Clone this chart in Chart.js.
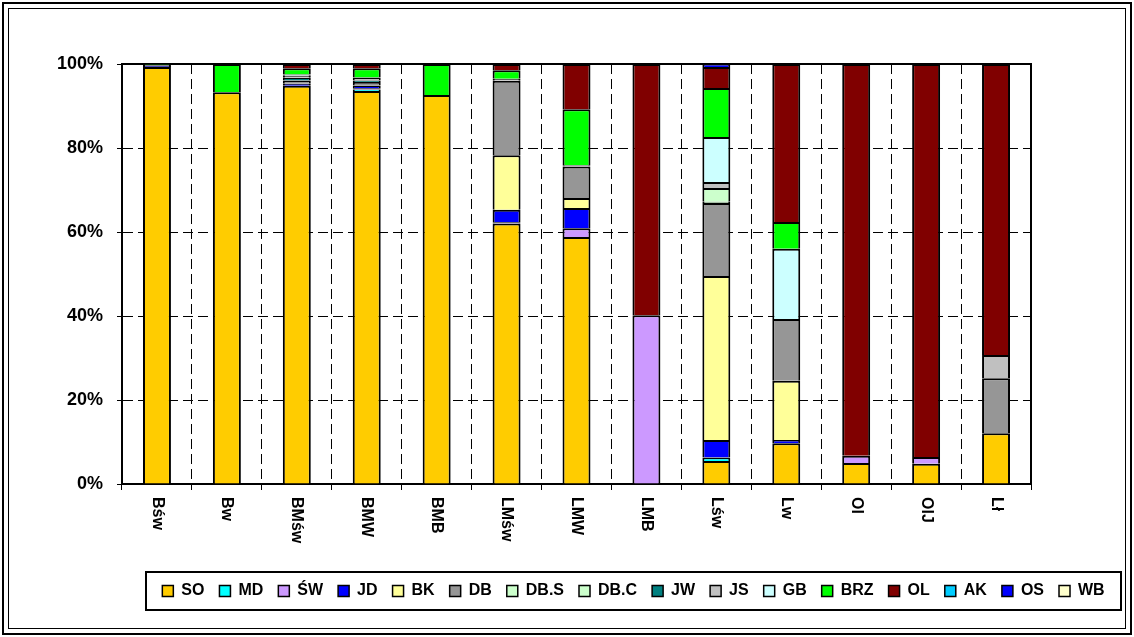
<!DOCTYPE html>
<html>
<head>
<meta charset="utf-8">
<title>Skład gatunkowy</title>
<script src="https://cdn.jsdelivr.net/npm/chart.js@4.4.0/dist/chart.umd.min.js"></script>
<style>
  html, body { margin: 0; padding: 0; background: #fff; }
  canvas { display: block; }
</style>
</head>
<body>
<canvas id="speciesChart" width="1134" height="637"></canvas>
<script>
// habitat types on the x axis
const habitats = ["Bśw", "Bw", "BMśw", "BMW", "BMB", "LMśw", "LMW", "LMB", "Lśw", "Lw", "Ol", "OlJ", "Lł"];

// y axis ticks (percent)
const yTicks = [0, 20, 40, 60, 80, 100];

// species shares (%) per habitat, bottom to top of each stack
const so   = [99.3, 93.3, 94.8, 93.6, 92.6, 62.0, 58.8, 0, 5.5, 9.7, 5.0, 4.8, 12.1];
const md   = [0, 0, 0, 0.3, 0, 0, 0, 0, 0.8, 0, 0, 0, 0];
const sw   = [0, 0, 0, 0.3, 0, 0.3, 2.1, 40.2, 0, 0, 1.7, 1.6, 0];
const jd   = [0.2, 0, 0.5, 0.7, 0, 3.0, 4.8, 0, 4.2, 0.8, 0, 0, 0];
const bk   = [0, 0, 0, 0, 0, 13.0, 2.4, 0, 39.0, 14.1, 0, 0, 0];
const db   = [0.3, 0, 0.8, 0.8, 0, 17.7, 7.5, 0, 17.4, 14.7, 0, 0, 13.1];
const dbs  = [0, 0, 0, 0, 0, 0, 0, 0, 0.3, 0, 0, 0, 0];
const dbc  = [0, 0, 0, 0, 0, 0, 0, 0, 3.3, 0, 0, 0, 0];
const jw   = [0, 0, 0.6, 0.4, 0, 0, 0, 0, 0, 0, 0, 0, 0];
const js   = [0, 0, 0.5, 0.7, 0, 0.5, 0.3, 0, 1.4, 0, 0, 0, 5.5];
const gb   = [0, 0, 0.3, 0, 0, 0, 0, 0, 10.7, 16.7, 0, 0, 0];
const brz  = [0.2, 6.7, 1.5, 2.2, 7.4, 2.0, 13.3, 0, 11.7, 6.4, 0, 0, 0];
const ol   = [0, 0, 1.0, 1.0, 0, 1.5, 10.8, 59.8, 5.0, 37.6, 93.3, 93.6, 69.3];
const ak   = [0, 0, 0, 0, 0, 0, 0, 0, 0, 0, 0, 0, 0];
const os   = [0, 0, 0, 0, 0, 0, 0, 0, 0.7, 0, 0, 0, 0];
const wb   = [0, 0, 0, 0, 0, 0, 0, 0, 0, 0, 0, 0, 0];

const seriesNames  = ["SO", "MD", "ŚW", "JD", "BK", "DB", "DB.S", "DB.C", "JW", "JS", "GB", "BRZ", "OL", "AK", "OS", "WB"];
const seriesValues = [so, md, sw, jd, bk, db, dbs, dbc, jw, js, gb, brz, ol, ak, os, wb];
const seriesColors = ["#FFCC00", "#00FFFF", "#CC99FF", "#0000FF", "#FFFF99", "#969696", "#CCFFCC", "#CCFFCC",
                      "#008080", "#C0C0C0", "#CCFFFF", "#00FF00", "#800000", "#00CCFF", "#0000FF", "#FFFFCC"];

const boldFont = size => ({ family: "Arial, 'Liberation Sans', sans-serif", size: size, weight: "bold" });

// page frame, plot frame, legend frame and rotated category labels
const framePlugin = {
    id: "frames",
    beforeDraw(chart) {
        const c = chart.ctx;
        c.save();
        c.fillStyle = "#fff";
        c.fillRect(0, 0, chart.width, chart.height);
        c.strokeStyle = "#000";
        c.lineWidth = 2;
        c.strokeRect(3, 3, chart.width - 6, chart.height - 6);
        c.lineWidth = 1;
        c.strokeRect(8.5, 8.5, chart.width - 17, chart.height - 17);
        c.restore();
    },
    afterLayout(chart) {
        // legend row centred in its box below the labels
        const lg = chart.legend;
        lg.left = 146; lg.right = 1121; lg.width = 975;
        lg.top = 568; lg.bottom = 610; lg.height = 42;
    },
    beforeDatasetsDraw(chart) {
        const a = chart.chartArea;
        const c = chart.ctx;
        c.save();
        c.strokeStyle = "#000";
        c.lineWidth = 2;
        c.beginPath();
        c.moveTo(a.left, a.top);
        c.lineTo(a.right, a.top);
        c.lineTo(a.right, a.bottom);
        c.stroke();
        c.restore();
    },
    afterDraw(chart) {
        const c = chart.ctx;
        const xs = chart.scales.x;
        c.save();
        c.fillStyle = "#000";
        c.font = "bold 16px Arial, 'Liberation Sans', sans-serif";
        c.textAlign = "left";
        c.textBaseline = "middle";
        habitats.forEach((lab, i) => {
            c.save();
            c.translate(xs.getPixelForTick(i), xs.top + 13);
            c.rotate(Math.PI / 2);
            c.fillText(lab, 0, 0);
            c.restore();
        });
        c.strokeStyle = "#000";
        c.lineWidth = 2;
        c.strokeRect(146, 572, 975, 38);
        c.restore();
    }
};

new Chart(document.getElementById("speciesChart"), {
    type: "bar",
    data: {
        labels: habitats,
        datasets: seriesNames.map((name, i) => ({
            label: name,
            data: seriesValues[i],
            backgroundColor: seriesColors[i],
            borderColor: "#000",
            borderWidth: 2,
            borderSkipped: "start",
            barPercentage: 0.4,
            categoryPercentage: 1.0
        }))
    },
    options: {
        responsive: false,
        animation: false,
        layout: { padding: { top: 64, right: 103, left: 0, bottom: 0 } },
        plugins: {
            tooltip: { enabled: false },
            legend: {
                position: "bottom",
                labels: {
                    boxWidth: 11,
                    boxHeight: 11,
                    padding: 15,
                    color: "#000",
                    font: boldFont(16),
                    generateLabels: chart => Chart.defaults.plugins.legend.labels.generateLabels(chart)
                        .map(l => Object.assign(l, { lineWidth: 1.5, strokeStyle: "#000" }))
                }
            }
        },
        scales: {
            x: {
                stacked: true,
                ticks: { display: false },
                grid: { color: "#000", lineWidth: 1, offset: true, drawTicks: true, tickLength: 6, tickColor: "#000" },
                border: { display: true, color: "#000", width: 2, dash: [10, 5] },
                afterFit: s => { s.height = s.chart.height - s.chart.legend.height - 484; }
            },
            y: {
                stacked: true,
                min: 0,
                max: 100,
                afterBuildTicks: s => { s.ticks = yTicks.map(v => ({ value: v })); },
                ticks: { color: "#000", font: boldFont(18), padding: 14, callback: v => v + "%" },
                grid: { color: "#000", lineWidth: 1, drawTicks: true, tickLength: 5, tickColor: "#000" },
                border: { display: true, color: "#000", width: 2, dash: [10, 5] },
                afterFit: s => { s.width = 122; }
            }
        }
    },
    plugins: [framePlugin]
});
</script>
</body>
</html>
